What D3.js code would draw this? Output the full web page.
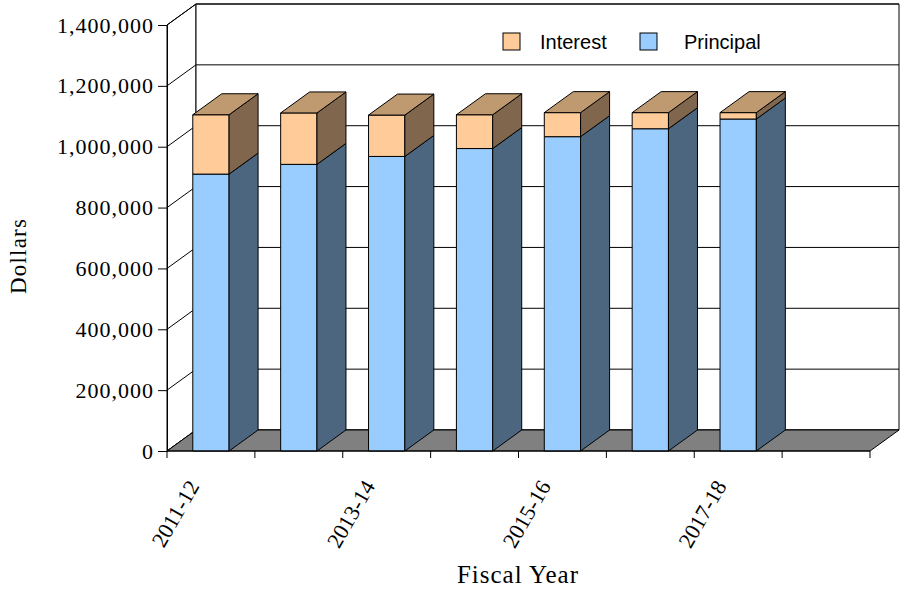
<!DOCTYPE html>
<html>
<head>
<meta charset="utf-8">
<script src="https://cdn.jsdelivr.net/npm/d3@7"></script>
<style>
  html, body { margin: 0; padding: 0; background: #fff; }
  svg { display: block; }
</style>
</head>
<body>
<svg id="chart" width="905" height="590"></svg>
<script>
// Debt service by fiscal year: principal and interest, stacked 3-D columns
const fiscalYears = ["2011-12", "2012-13", "2013-14", "2014-15", "2015-16", "2016-17", "2017-18", "2018-19"];
const labeledYears = ["2011-12", "2013-14", "2015-16", "2017-18"];
const principal = [910000, 942000, 968000, 994000, 1033000, 1059000, 1091000];
const interest  = [195000, 169000, 136000, 111000,   79000,   53000,   21000];
const yTickValues = [0, 200000, 400000, 600000, 800000, 1000000, 1200000, 1400000];
const seriesNames = ["Interest", "Principal"];

const colors = {
  interest:  { front: "#FFCC99", top: "#BF9970", side: "#80664D" },
  principal: { front: "#99CCFF", top: "#7399BF", side: "#4D6680" },
  floor: "#808080"
};

const svg = d3.select("#chart");
const plotLeft = 167, plotRight = 870, plotBottom = 451, plotTop = 25;
const depthX = 29, depthY = -21;   // oblique offset from front plane to back wall

const x = d3.scaleBand().domain(fiscalYears).range([plotLeft, plotRight])
  .paddingInner(0.587).paddingOuter(0.2935);
const y = d3.scaleLinear().domain([0, 1400000]).range([plotBottom, plotTop]);

const serif = "'Liberation Serif', 'Times New Roman', serif";
const sans = "'Liberation Sans', Arial, sans-serif";
const poly = pts => "M" + pts.map(p => p.join(",")).join("L") + "Z";

// Walls: left side wall and back wall
const walls = svg.append("g");
walls.append("path")
  .attr("d", poly([[plotLeft, plotBottom], [plotLeft, plotTop], [plotLeft + depthX, plotTop + depthY], [plotLeft + depthX, plotBottom + depthY]]))
  .attr("fill", "#fff").attr("stroke", "#000");
walls.append("path")
  .attr("d", poly([[plotLeft + depthX, plotTop + depthY], [plotRight + depthX, plotTop + depthY], [plotRight + depthX, plotBottom + depthY], [plotLeft + depthX, plotBottom + depthY]]))
  .attr("fill", "#fff").attr("stroke", "#000");

// Gridlines across the side wall and along the back wall
const grid = walls.append("g").attr("stroke", "#000").attr("fill", "none");
yTickValues.forEach(v => {
  const yy = y(v);
  grid.append("path")
    .attr("d", `M${plotLeft},${yy}L${plotLeft + depthX},${yy + depthY}L${plotRight + depthX},${yy + depthY}`);
});

// Floor
svg.append("path")
  .attr("d", poly([[plotLeft, plotBottom], [plotRight, plotBottom], [plotRight + depthX, plotBottom + depthY], [plotLeft + depthX, plotBottom + depthY]]))
  .attr("fill", colors.floor).attr("stroke", "#000");

// Columns
const bars = svg.append("g").attr("stroke", "#000").attr("stroke-width", 1).attr("stroke-linejoin", "round");
principal.forEach((p, i) => {
  const x0 = x(fiscalYears[i]);
  const x1 = x0 + x.bandwidth();
  const yBase = y(0), yP = y(p), yT = y(p + interest[i]);
  const g = bars.append("g");
  // principal segment
  g.append("path").attr("d", poly([[x0, yBase], [x0, yP], [x1, yP], [x1, yBase]])).attr("fill", colors.principal.front);
  g.append("path").attr("d", poly([[x1, yBase], [x1, yP], [x1 + depthX, yP + depthY], [x1 + depthX, yBase + depthY]])).attr("fill", colors.principal.side);
  // interest segment
  g.append("path").attr("d", poly([[x0, yP], [x0, yT], [x1, yT], [x1, yP]])).attr("fill", colors.interest.front);
  g.append("path").attr("d", poly([[x1, yP], [x1, yT], [x1 + depthX, yT + depthY], [x1 + depthX, yP + depthY]])).attr("fill", colors.interest.side);
  // top cap
  g.append("path").attr("d", poly([[x0, yT], [x1, yT], [x1 + depthX, yT + depthY], [x0 + depthX, yT + depthY]])).attr("fill", colors.interest.top);
});

// Y axis
const yAxis = d3.axisLeft(y).tickValues(yTickValues).tickSize(9).tickPadding(4)
  .tickFormat(d3.format(","));
const gy = svg.append("g").attr("transform", `translate(${plotLeft},0)`).call(yAxis);
gy.select(".domain").attr("stroke", "#000");
gy.selectAll(".tick line").attr("stroke", "#000");
gy.selectAll(".tick text").attr("font-family", serif).attr("font-size", 22)
  .attr("letter-spacing", 1).attr("fill", "#000");

// X axis: tick marks at band boundaries
const boundaries = fiscalYears.map(d => x(d) - x.step() * x.paddingInner() / 2).concat([plotRight]);
const gx = svg.append("g");
gx.append("line").attr("x1", plotLeft).attr("x2", plotRight).attr("y1", plotBottom).attr("y2", plotBottom).attr("stroke", "#000");
gx.selectAll("line.tick").data(boundaries).join("line")
  .attr("class", "tick")
  .attr("x1", d => d).attr("x2", d => d)
  .attr("y1", plotBottom).attr("y2", plotBottom + 7)
  .attr("stroke", "#000");
gx.selectAll("text").data(labeledYears).join("text")
  .attr("transform", d => `translate(${x(d) + x.bandwidth() / 2 - 11},486) rotate(-60)`)
  .attr("text-anchor", "end")
  .attr("font-family", serif).attr("font-size", 22).attr("fill", "#000")
  .text(d => d);

// Axis titles
svg.append("text")
  .attr("transform", "translate(26,256) rotate(-90)")
  .attr("text-anchor", "middle")
  .attr("font-family", serif).attr("font-size", 23).attr("letter-spacing", 1.2)
  .text("Dollars");
svg.append("text")
  .attr("x", 518).attr("y", 583)
  .attr("text-anchor", "middle")
  .attr("font-family", serif).attr("font-size", 25).attr("letter-spacing", 1)
  .text("Fiscal Year");

// Legend
const legendItems = [
  { name: seriesNames[0], fill: colors.interest.front, sx: 503, tx: 540 },
  { name: seriesNames[1], fill: colors.principal.front, sx: 640, tx: 684 }
];
const legend = svg.append("g");
legendItems.forEach(it => {
  legend.append("rect").attr("x", it.sx).attr("y", 33).attr("width", 17).attr("height", 17)
    .attr("fill", it.fill).attr("stroke", "#000");
  legend.append("text").attr("x", it.tx).attr("y", 48.5)
    .attr("font-family", sans).attr("font-size", 20).attr("fill", "#000")
    .text(it.name);
});
</script>
</body>
</html>
